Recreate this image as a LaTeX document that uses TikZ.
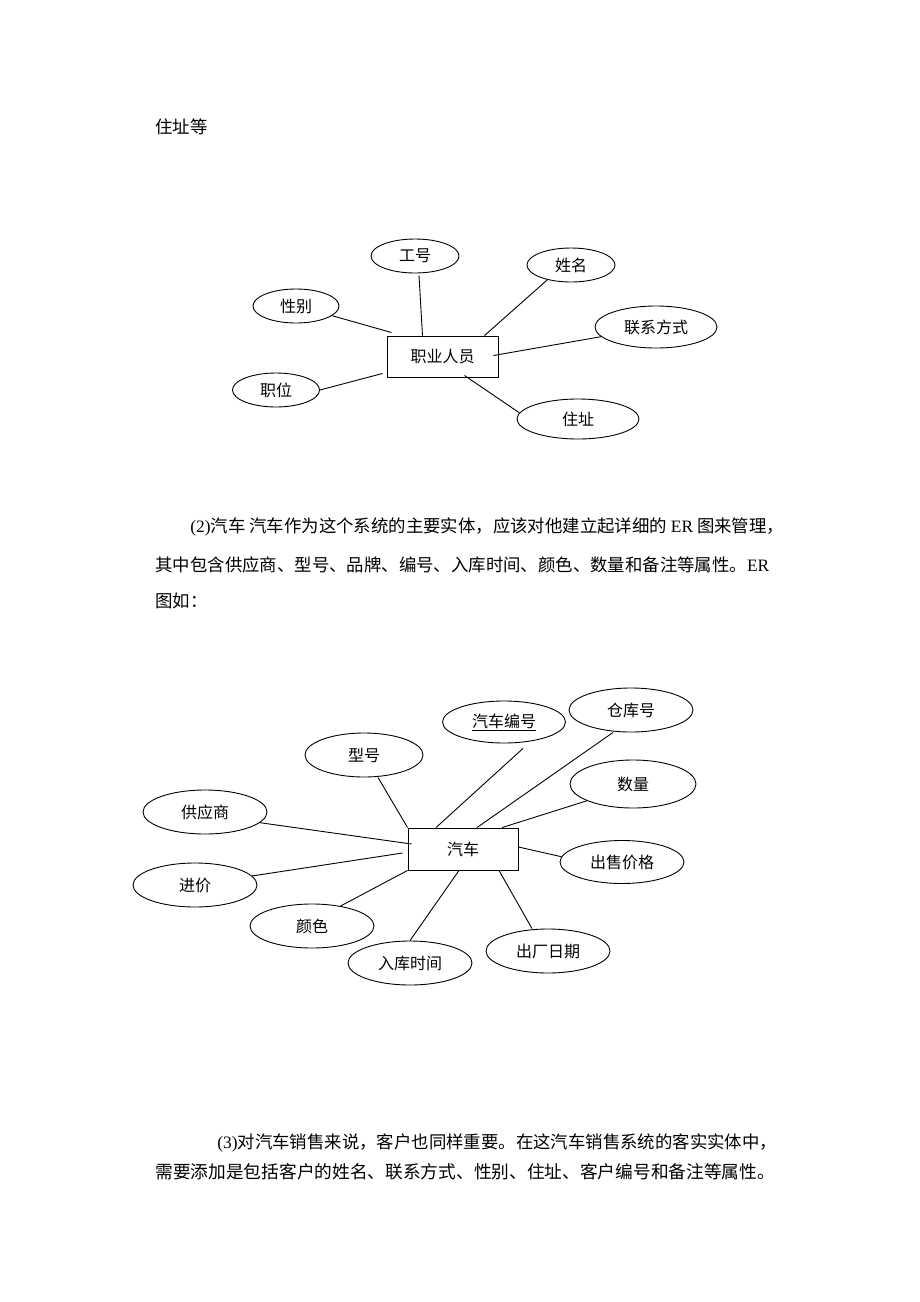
\documentclass[tikz,border=0pt]{standalone}
\usepackage{fontspec}
\newfontfamily\cjk{Noto Sans CJK SC}
\newfontfamily\lser{Liberation Serif}
\usetikzlibrary{shapes.geometric}
\begin{document}
\begin{tikzpicture}[x=1pt,y=-1pt,line width=0.9pt,
  attr/.style={draw, ellipse, inner sep=0pt, font=\cjk\fontsize{16}{18}\selectfont},
  ent/.style={draw, rectangle, inner sep=0pt, font=\cjk\fontsize{16}{18}\selectfont},
  body/.style={anchor=west, inner sep=0pt, font=\cjk\fontsize{17.4}{22}\selectfont},
  conn/.style={draw, line width=0.9pt}]
\path[use as bounding box, fill=white] (0,0) rectangle (920,1302);

% text
\node[body] (t0) at (155,127) {住址等};
\node[body] (t1) at (190,527) {{\lser (2)}汽车\ 汽车作为这个系统的主要实体，应该对他建立起详细的 {\lser ER} 图来管理，};
\node[body] (t2) at (155,565) {其中包含供应商、型号、品牌、编号、入库时间、颜色、数量和备注等属性。{\lser ER}};
\node[body] (t3) at (155,601) {图如：};
\node[body] (t4) at (217,1143) {{\lser (3)}对汽车销售来说，客户也同样重要。在这汽车销售系统的客实实体中，};
\node[body, font=\cjk\fontsize{17.7}{22}\selectfont] (t5) at (155,1172) {需要添加是包括客户的姓名、联系方式、性别、住址、客户编号和备注等属性。};

% diagram 1
\node[ent, minimum width=111pt, minimum height=41pt] (box1) at (442.5,356.5) {职业人员};
\node[attr, minimum width=88pt, minimum height=34pt] (gh) at (415,256) {工号};
\node[attr, minimum width=88pt, minimum height=34pt] (xm) at (571,265) {姓名};
\node[attr, minimum width=86pt, minimum height=34pt] (xb) at (296,306) {性别};
\node[attr, minimum width=122pt, minimum height=42pt] (lx) at (656,327) {联系方式};
\node[attr, minimum width=87pt, minimum height=34pt] (zw) at (276,390) {职位};
\node[attr, minimum width=122pt, minimum height=40pt] (zz) at (578,419) {住址};

\draw[conn] ([xshift=4pt,yshift=-2pt]gh.south) -- ([xshift=-20pt]box1.north);
\draw[conn] (xb.-15) -- ([xshift=5pt,yshift=3pt]box1.north west);
\draw[conn] (xm.212) -- ([xshift=42pt]box1.north);
\draw[conn] (lx.190) -- ([xshift=-5pt,yshift=1pt]box1.east);
\draw[conn] (zw.east) -- ([xshift=-4pt,yshift=4pt]box1.south west);
\draw[conn] (zz.174) -- ([xshift=22pt,yshift=2pt]box1.south);

% diagram 2
\node[ent, minimum width=110pt, minimum height=42pt] (box2) at (463,849) {汽车};
\node[attr, minimum width=118pt, minimum height=44pt] (xh) at (364,755) {型号};
\node[attr, minimum width=124pt, minimum height=44pt] (gys) at (205,812) {供应商};
\node[attr, minimum width=124pt, minimum height=44pt] (jj) at (195,885) {进价};
\node[attr, minimum width=124pt, minimum height=44pt] (ys) at (312,926) {颜色};
\node[attr, minimum width=124pt, minimum height=44pt] (rk) at (410,963) {入库时间};
\node[attr, minimum width=124pt, minimum height=44pt] (cc) at (548,951) {出厂日期};
\node[attr, minimum width=124pt, minimum height=43pt] (cs) at (622,862) {出售价格};
\node[attr, minimum width=126pt, minimum height=48pt] (sl) at (633,784) {数量};
\node[attr, minimum width=124pt, minimum height=44pt] (ckh) at (631,710) {仓库号};
\node[attr, minimum width=123pt, minimum height=42pt] (bh) at (504,722) {\underline{汽车编号}};

\draw[conn] ([xshift=14pt]xh.south) -- (box2.north west);
\draw[conn] (gys.-11) -- ([xshift=4pt,yshift=5pt]box2.west);
\draw[conn] (jj.9) -- ([xshift=-5pt,yshift=-4pt]box2.west);
\draw[conn] (ys.35) -- (box2.south west);
\draw[conn] (rk.north) -- ([xshift=-4pt]box2.south);
\draw[conn] ([xshift=-16pt]cc.north) -- ([xshift=36pt]box2.south);
\draw[conn] (cs.175) -- ([yshift=2pt]box2.east);
\draw[conn] (sl.200) -- ([xshift=39pt]box2.north);
\draw[conn] ([xshift=-18pt]ckh.south) -- ([xshift=14pt]box2.north);
\draw[conn] ([xshift=19pt,yshift=-5pt]bh.south) -- ([xshift=-27pt]box2.north);
\end{tikzpicture}
\end{document}
